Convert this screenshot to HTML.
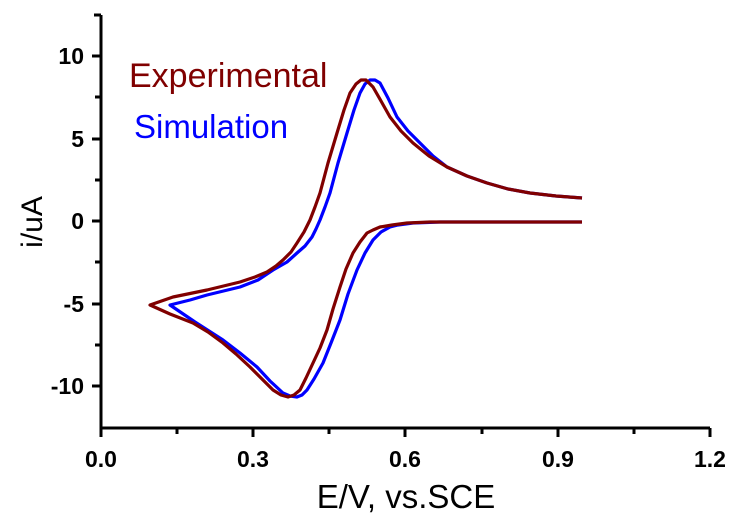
<!DOCTYPE html>
<html><head><style>body{margin:0;background:#fff}svg{display:block}</style></head><body>
<svg width="737" height="520" viewBox="0 0 737 520" xmlns="http://www.w3.org/2000/svg" font-family="Liberation Sans, sans-serif">
<g stroke="#000" stroke-width="3" fill="none">
<path d="M101,15 V428 H710"/>
<path d="M101,15 H94 M101,56 H92 M101,97 H95 M101,139 H92 M101,180 H95 M101,221 H92 M101,262 H95 M101,304 H92 M101,345 H95 M101,386 H92"/>
<path d="M101,428 V437 M177,428 V434 M253,428 V437 M329,428 V434 M405,428 V437 M482,428 V434 M558,428 V437 M634,428 V434 M710,428 V437"/>
</g>
<g font-size="23" font-weight="bold" text-anchor="end">
<text x="84" y="64">10</text><text x="84" y="147">5</text><text x="84" y="229">0</text>
<text x="84" y="312">-5</text><text x="84" y="394">-10</text>
</g>
<g font-size="23" font-weight="bold" text-anchor="middle">
<text x="101" y="467">0.0</text><text x="253" y="467">0.3</text><text x="405" y="467">0.6</text><text x="558" y="467">0.9</text><text x="710" y="467">1.2</text>
</g>
<text x="406" y="508" font-size="33" text-anchor="middle">E/V, vs.SCE</text>
<text transform="translate(42,222) rotate(-90)" font-size="30" text-anchor="middle">i/uA</text>
<text x="129" y="87" font-size="34" fill="#800000">Experimental</text>
<text x="134" y="138" font-size="33" fill="#0000ff">Simulation</text>
<polyline fill="none" stroke="#0000ff" stroke-width="3.2" stroke-linejoin="round" points="582,222 500,222 440,222 413,223 398,225 390,227 381,232 373,240 365,253 357,270 348,294 340,320 331,343 323,363 314,379 307,390 302,395 297,397 290,396 283,393 270,381 257,367 240,353 223,340 195,322 170,305 190,300 207,295 240,287 258,280 273,270 287,262 297,253 305,246 312,237 316,229 320,220 325,207 330,193 338,163 347,133 354,110 360,93 365,84 370,80 375,80 380,83 388,98 397,117 408,131 420,143 433,156 447,167 467,176 487,183 508,189 530,193 556,196 582,198"/>
<polyline fill="none" stroke="#800000" stroke-width="3.2" stroke-linejoin="round" points="582,222 500,222 430,222 407,223 392,225 380,227 373,230 367,233 360,242 353,253 346,269 340,287 333,309 327,330 320,348 313,363 306,378 300,390 294,395 288,397 281,395 273,390 262,379 250,367 236,354 223,343 208,332 193,323 170,314 150,305 173,297 207,290 240,282 255,277 267,272 276,266 283,260 291,252 297,243 304,232 310,220 315,207 320,193 328,163 337,133 344,110 350,93 356,84 361,80 366,80 373,87 381,101 390,117 401,131 413,143 429,156 447,167 467,176 487,183 508,189 530,193 556,196 582,198"/>
</svg>
</body></html>
